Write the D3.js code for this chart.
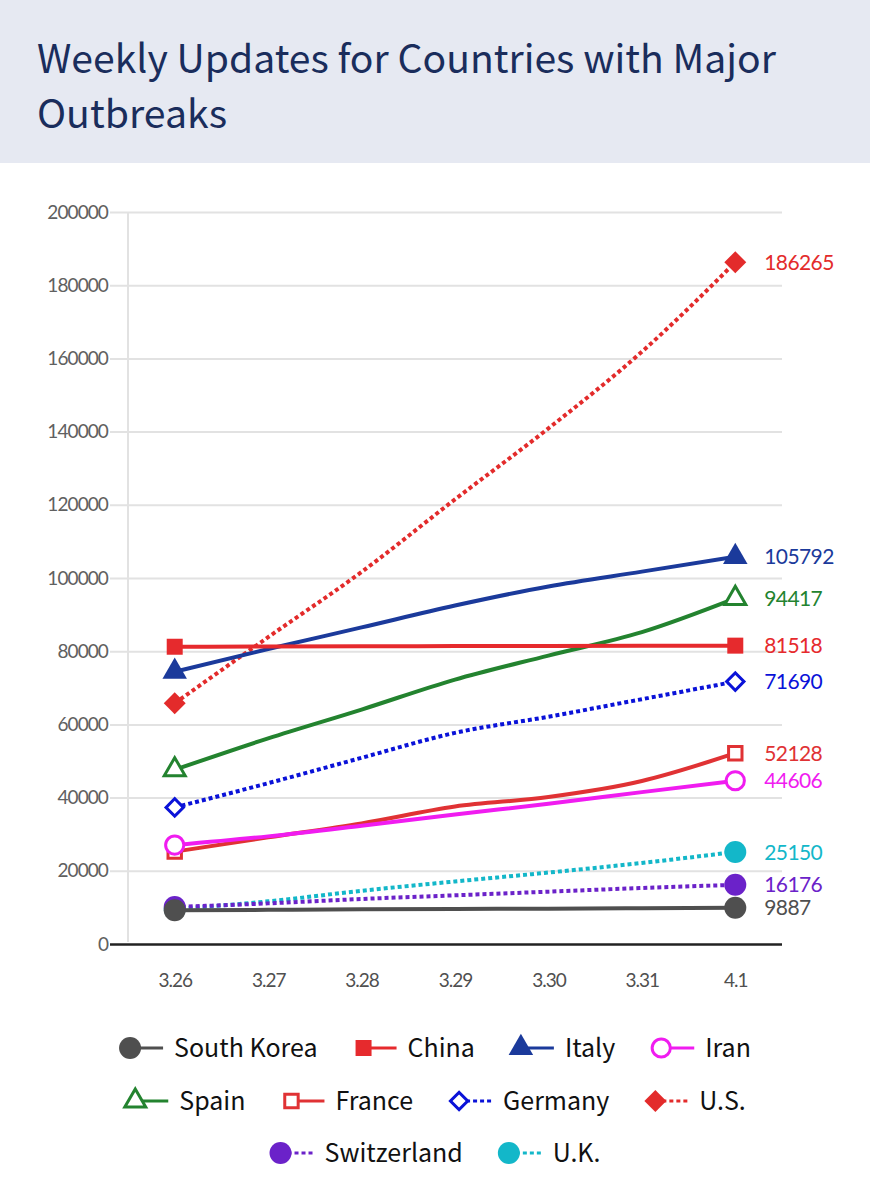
<!DOCTYPE html>
<html>
<head>
<meta charset="utf-8">
<script src="https://cdn.jsdelivr.net/npm/d3@7"></script>
<style>
  body { margin: 0; background: #fff; }
  svg { display: block; }
</style>
</head>
<body>
<svg id="chart" width="870" height="1200"></svg>
<script>
// dates on the x axis
const dates = ["3.26", "3.27", "3.28", "3.29", "3.30", "3.31", "4.1"];
const yTicks = [0, 20000, 40000, 60000, 80000, 100000, 120000, 140000, 160000, 180000, 200000];

// confirmed cases per country
const southKorea = [9241, 9332, 9478, 9583, 9661, 9786, 9887];
const china = [81218, 81285, 81340, 81394, 81439, 81470, 81518];
const italy = [74386, 80589, 86498, 92472, 97689, 101739, 105792];
const iran = [27017, 29406, 32332, 35408, 38309, 41495, 44606];
const spain = [47610, 56188, 64059, 72248, 78797, 85195, 94417];
const france = [25233, 29155, 32964, 37575, 40174, 44550, 52128];
const germany = [37323, 43938, 50871, 57695, 62095, 66885, 71690];
const us = [65778, 83836, 101657, 121478, 140886, 161807, 186265];
const switzerland = [10100, 11100, 12300, 13300, 14300, 15300, 16176];
const uk = [9529, 11658, 14543, 17089, 19522, 22141, 25150];

const countries = ["South Korea", "China", "Italy", "Iran", "Spain", "France", "Germany", "U.S.", "Switzerland", "U.K."];
const values = [southKorea, china, italy, iran, spain, france, germany, us, switzerland, uk];
const colors = ["#4f4f4f", "#e62a2d", "#1b3a9b", "#f01cf0", "#23832f", "#e03234", "#0a12d8", "#e32b2b", "#6b22c9", "#13b7c9"];
const symbols = ["circle", "square", "triangle", "circle", "triangle", "square", "diamond", "diamond", "circle", "circle"];
const hollow = [false, false, false, true, true, true, true, false, false, false];
const dotted = [false, false, false, false, false, false, true, true, true, true];

const series = countries.map((name, i) => ({
  name: name,
  values: values[i],
  color: colors[i],
  symbol: symbols[i],
  hollow: hollow[i],
  dotted: dotted[i]
}));

const svg = d3.select("#chart");
const krFont = "'Noto Sans CJK KR', 'Noto Sans', sans-serif";

// header
svg.append("rect").attr("x", 0).attr("y", 0).attr("width", 870).attr("height", 163).attr("fill", "#e6e9f2");
const title = svg.append("g")
  .attr("fill", "#1a2d5c")
  .style("font-family", krFont)
  .style("font-size", "39px");
title.append("text").attr("x", 37).attr("y", 73)
  .attr("textLength", 739).attr("lengthAdjust", "spacingAndGlyphs")
  .text("Weekly Updates for Countries with Major");
title.append("text").attr("x", 37).attr("y", 128)
  .attr("textLength", 190).attr("lengthAdjust", "spacingAndGlyphs")
  .text("Outbreaks");

// scales
var x = d3.scalePoint().domain(dates).range([128, 782]).padding(0.5);
var y = d3.scaleLinear().domain([0, 200000]).range([944, 212]);

// y axis + grid
const yAxis = svg.append("g")
  .attr("transform", "translate(128,0)")
  .call(d3.axisLeft(y).tickValues(yTicks).tickSizeInner(-654).tickSizeOuter(0).tickPadding(20).tickFormat(d3.format("d")));
yAxis.select(".domain").remove();
yAxis.selectAll(".tick line")
  .attr("x1", -18)
  .attr("stroke", (d) => (d === 0 ? "#222" : "#e2e2e2"))
  .attr("stroke-width", (d) => (d === 0 ? 2.5 : 2));
yAxis.selectAll(".tick text")
  .attr("fill", "#606060")
  .style("font-family", "Lato, sans-serif")
  .style("font-size", "19px")
  .style("letter-spacing", "-0.9px");

svg.append("line")
  .attr("x1", 128).attr("x2", 128)
  .attr("y1", y(200000)).attr("y2", y(0) - 2)
  .attr("stroke", "#e2e2e2").attr("stroke-width", 2);

// x axis labels
const xAxis = svg.append("g")
  .attr("transform", "translate(0,944)")
  .call(d3.axisBottom(x).tickSize(0).tickPadding(30));
xAxis.select(".domain").remove();
xAxis.selectAll(".tick text")
  .attr("fill", "#505050")
  .style("font-family", "Lato, sans-serif")
  .style("font-size", "19px")
  .style("letter-spacing", "-1px");

// marker shapes
function markerPath(symbol, hollowMarker) {
  if (symbol === "circle") return d3.symbol(d3.symbolCircle, hollowMarker ? 260 : 380)();
  if (symbol === "square") return d3.symbol(d3.symbolSquare, hollowMarker ? 180 : 256)();
  if (symbol === "triangle") return d3.symbol(d3.symbolTriangle, hollowMarker ? 190 : 260)();
  return d3.symbol(d3.symbolSquare, hollowMarker ? 150 : 240)();
}

function drawMarker(g, s) {
  g.append("path")
    .attr("d", markerPath(s.symbol, s.hollow))
    .attr("transform", s.symbol === "diamond" ? "rotate(45)" : null)
    .attr("fill", s.hollow ? "#fff" : s.color)
    .attr("stroke", s.color)
    .attr("stroke-width", s.hollow ? 3 : 0);
}

var line = d3.line()
  .x((d, i) => x(dates[i]))
  .y((d) => y(d))
  .curve(d3.curveMonotoneX);

// draw from last to first so South Korea ends on top
const plot = svg.append("g");
series.slice().reverse().forEach((s) => {
  const g = plot.append("g");
  g.append("path")
    .attr("d", line(s.values))
    .attr("fill", "none")
    .attr("stroke", s.color)
    .attr("stroke-width", 4)
    .attr("stroke-dasharray", s.dotted ? "4,3" : null);

  [0, s.values.length - 1].forEach((i) => {
    const m = g.append("g").attr("transform", "translate(" + x(dates[i]) + "," + y(s.values[i]) + ")");
    drawMarker(m, s);
  });
});

// end value labels
svg.append("g")
  .selectAll("text")
  .data(series)
  .join("text")
  .attr("x", x(dates[dates.length - 1]) + 29)
  .attr("y", (d) => y(d.values[d.values.length - 1]))
  .attr("dy", "0.36em")
  .attr("fill", (d) => d.color)
  .style("font-family", "Lato, sans-serif")
  .style("font-size", "21px")
  .style("letter-spacing", "-0.6px")
  .text((d) => d.values[d.values.length - 1]);

// legend, wrapped and centred
const legend = svg.append("g");
const items = series.map((s) => {
  const g = legend.append("g");
  const t = g.append("text")
    .attr("x", 55)
    .attr("dy", "0.35em")
    .attr("fill", "#111")
    .style("font-family", krFont)
    .style("font-size", "25px")
    .text(s.name);
  g.append("line")
    .attr("x1", 11).attr("x2", 44)
    .attr("y1", 0).attr("y2", 0)
    .attr("stroke", s.color)
    .attr("stroke-width", 3)
    .attr("stroke-dasharray", s.dotted ? "4,3" : null);
  const m = g.append("g").attr("transform", "translate(11,0)");
  drawMarker(m, s);
  return { g: g, width: 55 + t.node().getComputedTextLength() };
});

const maxRow = 660, gap = 35, rowY = [1048, 1101, 1153];
let rows = [[]], rowWidth = 0;
items.forEach((it) => {
  const add = rows[rows.length - 1].length ? gap + it.width : it.width;
  if (rowWidth + add > maxRow) {
    rows.push([it]);
    rowWidth = it.width;
  } else {
    rows[rows.length - 1].push(it);
    rowWidth += add;
  }
});
rows.forEach((row, r) => {
  const total = d3.sum(row, (d) => d.width) + gap * (row.length - 1);
  let cx = 435 - total / 2;
  row.forEach((it) => {
    it.g.attr("transform", "translate(" + cx + "," + rowY[r] + ")");
    cx += it.width + gap;
  });
});
</script>
</body>
</html>
